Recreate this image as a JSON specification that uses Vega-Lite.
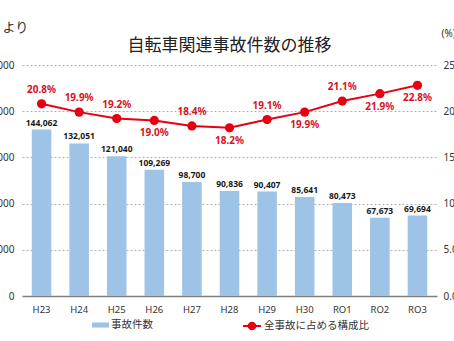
{
  "$schema": "https://vega.github.io/schema/vega-lite/v6.json",
  "autosize": {"type": "none"},
  "width": 415,
  "height": 231,
  "padding": {"left": 22, "top": 65, "right": 17, "bottom": 45},
  "background": "white",
  "title": {
    "text": "自転車関連事故件数の推移",
    "font": "Noto Sans CJK JP",
    "fontSize": 17,
    "fontWeight": "normal",
    "color": "#222222",
    "anchor": "middle",
    "frame": "group",
    "offset": 0,
    "dy": 34
  },
  "data": {
    "values": [
      {"year": "H23", "count": 144062, "share": 0.208},
      {"year": "H24", "count": 132051, "share": 0.199},
      {"year": "H25", "count": 121040, "share": 0.192},
      {"year": "H26", "count": 109269, "share": 0.190},
      {"year": "H27", "count": 98700, "share": 0.184},
      {"year": "H28", "count": 90836, "share": 0.182},
      {"year": "H29", "count": 90407, "share": 0.191},
      {"year": "H30", "count": 85641, "share": 0.199},
      {"year": "RO1", "count": 80473, "share": 0.211},
      {"year": "RO2", "count": 67673, "share": 0.219},
      {"year": "RO3", "count": 69694, "share": 0.228}
    ]
  },
  "encoding": {
    "x": {
      "field": "year",
      "type": "nominal",
      "sort": null,
      "scale": {"paddingInner": 0.48, "paddingOuter": 0.26},
      "axis": {
        "title": null,
        "labelAngle": 0,
        "labelFont": "Noto Sans",
        "labelFontSize": 9.5,
        "labelColor": "#333333",
        "labelPadding": 8,
        "ticks": false,
        "domainColor": "#808080",
        "domainWidth": 1.5
      }
    }
  },
  "layer": [
    {
      "encoding": {
        "y": {
          "field": "count",
          "type": "quantitative",
          "scale": {"domain": [0, 200000]},
          "axis": {
            "orient": "left",
            "values": [0, 40000, 80000, 120000, 160000, 200000],
            "labelExpr": "format(datum.value, ',')",
            "title": "より",
            "titleAngle": 0,
            "titleAlign": "left",
            "titleBaseline": "middle",
            "titleX": -20,
            "titleY": -38,
            "titleFont": "Noto Sans CJK JP",
            "titleFontSize": 13,
            "titleFontWeight": "normal",
            "titleColor": "#333333",
            "labelFont": "Noto Sans",
            "labelFontSize": 10,
            "labelColor": "#333333",
            "labelPadding": 8,
            "domain": false,
            "ticks": false,
            "grid": true,
            "gridDash": [2, 2],
            "gridColor": "#b0b0b0",
            "gridWidth": 1
          }
        }
      },
      "layer": [
        {
          "mark": {"type": "bar"},
          "encoding": {
            "color": {
              "datum": "事故件数",
              "scale": {"range": ["#9DC3E6"]},
              "legend": {
                "title": null,
                "orient": "none",
                "legendX": 70,
                "legendY": 251.5,
                "padding": 0,
                "symbolType": "M-1,-0.3H1V0.3H-1Z",
                "symbolSize": 289,
                "symbolStrokeWidth": 0,
                "labelOffset": 2,
                "labelFont": "Noto Sans CJK JP",
                "labelFontSize": 10.5,
                "labelColor": "#333333"
              }
            }
          }
        },
        {
          "mark": {
            "type": "text",
            "baseline": "bottom",
            "dy": -2,
            "font": "Noto Sans",
            "fontSize": 8.5,
            "fontWeight": "bold",
            "color": "#1a1a1a"
          },
          "encoding": {
            "text": {"field": "count", "type": "quantitative", "format": ","}
          }
        }
      ]
    },
    {
      "encoding": {
        "y": {
          "field": "share",
          "type": "quantitative",
          "scale": {"domain": [0, 0.25]},
          "axis": {
            "orient": "right",
            "values": [0, 0.05, 0.1, 0.15, 0.2, 0.25],
            "labelExpr": "format(datum.value * 100, '.1f')",
            "title": "(%)",
            "titleAngle": 0,
            "titleAlign": "left",
            "titleBaseline": "middle",
            "titleX": 4,
            "titleY": -32,
            "titleFont": "Noto Sans",
            "titleFontSize": 10,
            "titleFontWeight": "normal",
            "titleColor": "#333333",
            "labelFont": "Noto Sans",
            "labelFontSize": 10,
            "labelColor": "#333333",
            "labelPadding": 6,
            "domain": false,
            "ticks": false,
            "grid": false
          }
        }
      },
      "layer": [
        {
          "mark": {
            "type": "line",
            "strokeWidth": 2,
            "point": {"filled": true, "size": 85}
          },
          "encoding": {
            "color": {
              "datum": "全事故に占める構成比",
              "scale": {"range": ["#E60012"]},
              "legend": {
                "title": null,
                "orient": "none",
                "legendX": 220,
                "legendY": 251,
                "padding": 0,
                "symbolType": "M-1,0H1M0.36,0A0.36,0.36,0,1,1,-0.36,0A0.36,0.36,0,1,1,0.36,0Z",
                "symbolSize": 324,
                "symbolFillColor": "#E60012",
                "symbolStrokeColor": "#E60012",
                "symbolStrokeWidth": 2,
                "labelOffset": 2,
                "labelFont": "Noto Sans CJK JP",
                "labelFontSize": 10.5,
                "labelColor": "#333333"
              }
            }
          }
        },
        {
          "transform": [
            {"filter": "indexof(['H26', 'H28', 'H30', 'RO2', 'RO3'], datum.year) < 0"}
          ],
          "mark": {
            "type": "text",
            "baseline": "middle",
            "dy": -14,
            "font": "Noto Sans",
            "fontSize": 10,
            "fontWeight": "bold",
            "color": "#D7131F"
          },
          "encoding": {
            "text": {"field": "share", "type": "quantitative", "format": ".1%"}
          }
        },
        {
          "transform": [
            {"filter": "indexof(['H26', 'H28', 'H30', 'RO2', 'RO3'], datum.year) >= 0"}
          ],
          "mark": {
            "type": "text",
            "baseline": "middle",
            "dy": 13,
            "font": "Noto Sans",
            "fontSize": 10,
            "fontWeight": "bold",
            "color": "#D7131F"
          },
          "encoding": {
            "text": {"field": "share", "type": "quantitative", "format": ".1%"}
          }
        }
      ]
    }
  ],
  "resolve": {"scale": {"y": "independent", "color": "independent"}},
  "config": {
    "view": {"stroke": null}
  }
}
